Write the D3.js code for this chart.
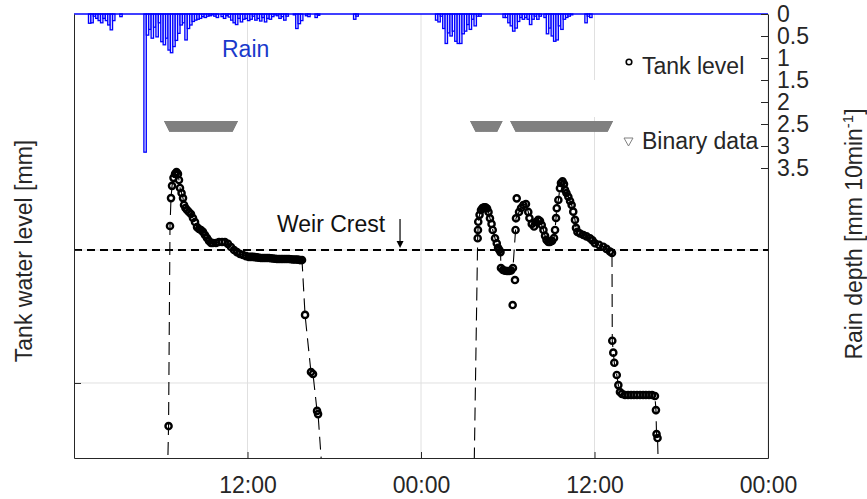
<!doctype html>
<meta charset="utf-8">
<style>
  body { margin: 0; background: #fff; }
  svg { font-family: "Liberation Sans", Arial, Helvetica, sans-serif; }
</style>
<body>
<script src="https://d3js.org/d3.v7.min.js"></script>
<script>
// time axis, hours from the start of day 1
var xTicks = [0, 12, 24, 36, 48],
    xTickLabels = ['', '12:00', '00:00', '12:00', '00:00'];

var rainTicks = [0, 0.5, 1, 1.5, 2, 2.5, 3, 3.5],
    levelTicks = [50, 100],
    weirCrest = 100; // mm

// rain depth per 10 min bar [mm 10min-1]
var rain1Start = 1.0,
    rain1 = [0.21, 0.2, 0.05, 0.1, 0.15, 0.2, 0.1, 0.15, 0.25, 0.36, 0.15, 0, 0, 0.06,
      0, 0, 0, 0, 0, 0, 0, 0, 0,
      3.14,
      0.48, 0.35, 0.55, 0.3, 0.52, 0.2, 0.63, 0.7, 0.55, 0.82, 0.88, 0.74, 0.6, 0.44,
      0.25, 0.2, 0.59, 0.33, 0.25, 0.17, 0.14, 0.12, 0.1, 0.06, 0.08, 0.05, 0.04, 0.02,
      0.05, 0.08, 0, 0.06, 0.1, 0.04, 0.07,
      0.14, 0.2, 0.24, 0.1, 0.18, 0.12,
      0.1, 0.15, 0.12, 0.05, 0.14, 0.1, 0.16,
      0.08, 0.18, 0.1, 0.12, 0.06, 0.02,
      0.04, 0.1, 0.06, 0.14, 0.05, 0, 0, 0.02,
      0.33, 0.22, 0.15,
      0, 0.04, 0.06, 0, 0,
      0.08, 0.03,
      0, 0, 0, 0, 0, 0, 0, 0, 0, 0, 0, 0, 0, 0,
      0.12, 0.05];
var rain2Start = 25.0,
    rain2 = [0.14, 0.18, 0.05, 0.33, 0.67, 0.43, 0.5, 0.39, 0.62, 0.67, 0.67, 0.45, 0.39,
      0.24, 0.35, 0.12, 0.27, 0.05, 0.05,
      0, 0, 0, 0, 0, 0, 0, 0, 0,
      0.08, 0.08, 0.2, 0.27, 0.39, 0.32, 0.17, 0.08, 0.12, 0.08, 0.12, 0.24, 0.12, 0.05,
      0.12, 0.05, 0, 0.08, 0.45, 0.32, 0.5, 0.62, 0.59, 0.27, 0.35, 0.12, 0.08, 0.05, 0.02,
      0, 0, 0, 0, 0,
      0.2, 0.05, 0.08];

// binary sensor "on" periods [h], logged every minute
var binaryOn = [6.6, 27.77, 30.54],
    binaryOff = [10.98, 29.27, 36.92],
    binaryLevel = 147;

// tank level [h], [mm]
var tankHours = [6.47, 6.54, 6.64, 6.71, 6.78, 6.88, 6.99, 7.09, 7.19, 7.26, 7.33, 7.44, 7.54,
  7.61, 7.71, 7.82, 7.95, 8.09, 8.23, 8.37, 8.51, 8.65, 8.78, 8.92, 9.06, 9.20, 9.34, 9.48,
  9.61, 9.82, 10.03, 10.24, 10.44, 10.65, 10.86, 11.07, 11.27, 11.48, 11.69, 11.90, 12.10,
  12.24, 12.38, 12.52, 12.66, 12.80, 12.93, 13.07, 13.21, 13.35, 13.49, 13.62, 13.76, 13.90,
  14.04, 14.18, 14.32, 14.45, 14.59, 14.73, 14.87, 15.01, 15.15, 15.28, 15.42, 15.52, 15.63,
  15.77, 15.98, 16.39, 16.53, 16.81, 16.88, 17.15,
  27.67, 27.92, 27.94, 27.96, 28.05, 28.15, 28.25, 28.36, 28.46, 28.57, 28.67, 28.77, 28.88,
  28.96, 29.12, 29.24, 29.33, 29.42, 29.50, 29.53, 29.67, 29.81, 29.95, 30.09, 30.23, 30.36,
  30.54, 30.57, 30.78, 30.92, 31.08, 31.26, 31.42, 31.50, 31.66, 31.82, 31.95, 32.11, 32.23,
  32.35, 32.47, 32.58, 32.68, 32.81, 32.92, 33.06, 33.20, 33.27, 33.34, 33.39, 33.50, 33.61,
  33.68, 33.79, 33.89, 33.96, 34.06, 34.19, 34.31, 34.42, 34.53, 34.65, 34.72, 34.82, 35.00,
  35.23, 35.45, 35.69, 35.86, 36.03, 36.31, 36.61, 36.83, 37.07, 37.21, 37.23, 37.30, 37.37,
  37.54, 37.65, 37.76, 37.90, 38.11, 38.32, 38.53, 38.73, 38.94, 39.15, 39.36, 39.56, 39.77,
  39.98, 40.18, 40.25, 40.29, 40.36, 40.43];
var tankLevel = [15.4, 33.8, 109.0, 119.5, 124.1, 127.1, 128.6, 129.3, 128.6, 126.3, 123.3,
  121.4, 119.5, 116.9, 115.8, 115.0, 114.3, 113.5, 112.0, 110.5, 108.6, 107.9, 107.5, 106.8,
  105.6, 104.5, 103.4, 102.6, 102.6, 102.6, 103.0, 103.0, 103.0, 102.3, 101.1, 100.0, 99.2,
  98.5, 98.1, 97.7, 97.4,
  97.4, 97.4, 97.3, 97.2, 97.1, 97.0, 97.0, 97.0, 97.0, 97.0, 96.9, 96.8, 96.7,
  96.6, 96.6, 96.6, 96.6, 96.6, 96.6, 96.6, 96.5, 96.4, 96.4, 96.4, 96.3, 96.2,
  96.2, 75.6, 54.1, 53.4, 39.5, 38.3, 17.3,
  15.4, 104.4, 107.5, 110.6, 113.2, 115.0, 115.8, 116.0, 116.0, 115.6, 114.3, 111.9, 109.8,
  107.5, 104.4, 102.5, 100.8, 100.0, 99.2, 93.2, 92.5, 92.2, 92.1, 92.1, 92.3, 93.2, 107.5,
  111.9, 114.3, 115.8, 116.9, 117.3, 114.3, 112.0, 109.8, 108.8, 110.5, 111.3, 110.9, 109.4,
  107.5, 105.3, 103.8, 103.0, 103.0, 103.4, 104.5, 107.5, 112.0, 115.7, 118.8, 123.2, 125.2,
  125.8, 124.8, 122.6, 121.4, 120.0, 118.4, 116.9, 114.4, 111.3, 108.3, 106.8, 106.2, 105.6,
  105.1, 104.4, 103.6, 102.5, 101.9, 101.2, 100.4, 99.4, 98.9, 65.9, 61.4, 57.6, 53.0, 49.2,
  46.6, 45.9, 45.5, 45.5, 45.5, 45.5, 45.5, 45.5, 45.5, 45.5, 45.5, 45.5, 45.1, 39.8, 30.8,
  29.3, 15.4];
// raw readings
var outlierHours = [30.34, 30.50, 30.62],
    outlierLevel = [79.3, 88.7, 119.4];

var W = 867, H = 499,
    pL = 74, pR = 768, pT = 14, pB = 458,
    ink = '#262626', font = '"Liberation Sans", Arial, Helvetica, sans-serif';

var svg = d3.select('body').append('svg').attr('width', W).attr('height', H);

var x = d3.scaleLinear().domain([0, 48]).range([pL, pR]),
    yLevel = d3.scaleLinear().domain([21.8, 188.7]).range([pB, pT]),
    yRain = d3.scaleLinear().domain([0, 10.09]).range([pT, pB]);

svg.append('clipPath').attr('id', 'plot')
  .append('rect').attr('x', pL).attr('y', pT).attr('width', pR - pL).attr('height', pB - pT);

// grid
svg.append('g').selectAll('line').data(xTicks.slice(1)).enter().append('line')
  .attr('x1', function(d){return x(d);}).attr('x2', function(d){return x(d);})
  .attr('y1', pT).attr('y2', pB)
  .style('stroke', '#e0e0e0').style('stroke-width', 1);
svg.append('g').selectAll('line').data(levelTicks).enter().append('line')
  .attr('x1', pL).attr('x2', pR)
  .attr('y1', function(d){return yLevel(d);}).attr('y2', function(d){return yLevel(d);})
  .style('stroke', '#e0e0e0').style('stroke-width', 1);

// empty legend box of the rain axes hides part of the grid
svg.append('rect').attr('x', 588).attr('y', 80).attr('width', 30).attr('height', 37).style('fill', '#fff');

// rain bars hanging from the top
var rainBars = [];
rain1.forEach(function(v, i){ if(v > 0) rainBars.push({h: rain1Start + i / 6, v: v}); });
rain2.forEach(function(v, i){ if(v > 0) rainBars.push({h: rain2Start + i / 6, v: v}); });

svg.append('g').attr('class', 'rain').selectAll('rect').data(rainBars).enter().append('rect')
  .attr('x', function(d){return x(d.h);})
  .attr('y', pT)
  .attr('width', function(d){return x(d.h + 1 / 6) - x(d.h);})
  .attr('height', function(d){return yRain(d.v) - pT;})
  .style('fill', '#e8e8ff').style('stroke', '#0000ff').style('stroke-width', 1.3);

svg.append('line').attr('x1', pL).attr('x2', pR).attr('y1', pT).attr('y2', pT)
  .style('stroke', '#0000ff').style('stroke-width', 1.5);

// binary data markers
var binary = [];
binaryOn.forEach(function(on, i){
  d3.range(on, binaryOff[i] + 1e-6, 1 / 60).forEach(function(h){ binary.push(h); });
});
var by = yLevel(binaryLevel);
svg.append('g').selectAll('path').data(binary).enter().append('path')
  .attr('d', function(h){
    var cx = x(h);
    return 'M' + (cx - 5.5) + ',' + (by - 4) + 'L' + (cx + 5.5) + ',' + (by - 4) + 'L' + cx + ',' + (by + 7) + 'Z';
  })
  .style('fill', '#808080');

// weir crest
svg.append('line').attr('x1', pL).attr('x2', pR)
  .attr('y1', yLevel(weirCrest)).attr('y2', yLevel(weirCrest))
  .style('stroke', '#000').style('stroke-width', 2).style('stroke-dasharray', '8,5');

// tank level
var tank = tankHours.map(function(h, i){ return [h, tankLevel[i]]; }),
    outliers = outlierHours.map(function(h, i){ return [h, outlierLevel[i]]; });

var plot = svg.append('g').attr('clip-path', 'url(#plot)');
plot.append('path').datum(tank)
  .attr('d', d3.line().x(function(d){return x(d[0]);}).y(function(d){return yLevel(d[1]);}))
  .style('fill', 'none').style('stroke', '#000').style('stroke-width', 1.1)
  .style('stroke-dasharray', '13,7');
plot.append('g').selectAll('circle').data(tank.concat(outliers)).enter().append('circle')
  .attr('cx', function(d){return x(d[0]);})
  .attr('cy', function(d){return yLevel(d[1]);})
  .attr('r', 3.1)
  .style('fill', 'none').style('stroke', '#000').style('stroke-width', 2.4);

// axes
function styleAxis(g){
  g.attr('font-family', font).attr('font-size', 23);
  g.selectAll('.domain, line').style('stroke', ink);
  g.selectAll('text').style('fill', ink);
}
svg.append('g').attr('transform', 'translate(0,' + pB + ')')
  .call(d3.axisBottom(x).tickValues(xTicks)
    .tickFormat(function(d, i){return xTickLabels[i];})
    .tickSizeInner(-6).tickSizeOuter(0).tickPadding(19))
  .call(styleAxis);
svg.append('g').attr('transform', 'translate(' + pL + ',0)')
  .call(d3.axisLeft(yLevel).tickValues(levelTicks).tickFormat('')
    .tickSizeInner(-7).tickSizeOuter(0))
  .call(styleAxis);
svg.append('g').attr('transform', 'translate(' + pR + ',0)')
  .call(d3.axisRight(yRain).tickValues(rainTicks).tickFormat(d3.format('~g'))
    .tickSizeInner(-7).tickSizeOuter(0).tickPadding(9))
  .call(styleAxis);

// labels
svg.append('text').text('Tank water level [mm]')
  .attr('transform', 'translate(32,251) rotate(-90)')
  .style('text-anchor', 'middle').style('font-size', '23px').style('fill', ink);

var rl = svg.append('text')
  .attr('transform', 'translate(862,234) rotate(-90)')
  .style('text-anchor', 'middle').style('font-size', '23px').style('fill', ink);
rl.append('tspan').text('Rain depth [mm 10min');
rl.append('tspan').text('-1').attr('dy', -9).style('font-size', '15px');
rl.append('tspan').text(']').attr('dy', 9);

svg.append('text').text('Rain').attr('x', 222).attr('y', 57)
  .style('font-size', '23px').style('fill', '#1a3acb');

svg.append('text').text('Weir Crest')
  .attr('x', x(14.04)).attr('y', yLevel(weirCrest) - 18)
  .style('font-size', '23px').style('fill', '#111');

var ax = x(22.55), ay = yLevel(weirCrest);
svg.append('line').attr('x1', ax).attr('x2', ax).attr('y1', ay - 31).attr('y2', ay - 6)
  .style('stroke', '#000').style('stroke-width', 1.2);
svg.append('path')
  .attr('d', 'M' + (ax - 3.5) + ',' + (ay - 9) + 'L' + (ax + 3.5) + ',' + (ay - 9) + 'L' + ax + ',' + (ay - 2) + 'Z')
  .style('fill', '#000');

// legends
svg.append('circle').attr('cx', 629).attr('cy', 62).attr('r', 2.8)
  .style('fill', 'none').style('stroke', '#000').style('stroke-width', 1.6);
svg.append('text').text('Tank level').attr('x', 642).attr('y', 74)
  .style('font-size', '23px').style('fill', ink);
svg.append('path').attr('d', 'M624,138L633,138L628.5,146Z')
  .style('fill', 'none').style('stroke', '#808080').style('stroke-width', 1);
svg.append('text').text('Binary data').attr('x', 642).attr('y', 149)
  .style('font-size', '23px').style('fill', ink);
</script>
</body>
